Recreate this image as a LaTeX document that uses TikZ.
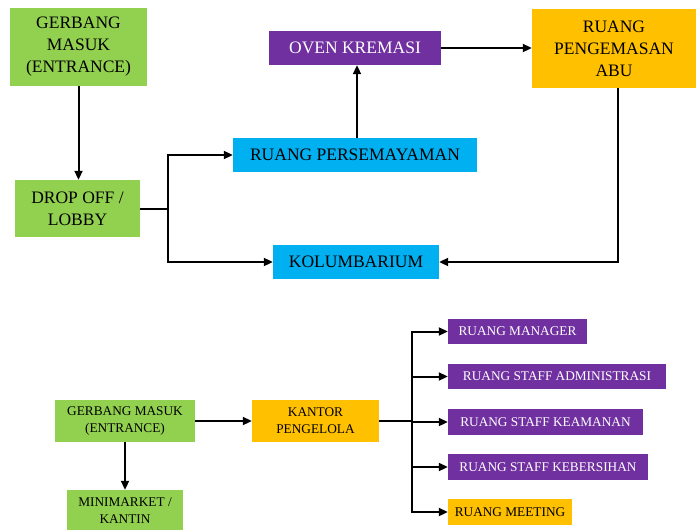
\documentclass[tikz,border=0pt]{standalone}
\usepackage{fontspec}
\setmainfont{Liberation Serif}
\usepackage{xcolor}
\usetikzlibrary{arrows.meta,calc,positioning}

\definecolor{hijau}{HTML}{92D050}
\definecolor{biru}{HTML}{00B0F0}
\definecolor{ungu}{HTML}{7030A0}
\definecolor{kuning}{HTML}{FFC000}

\begin{document}
\begin{tikzpicture}[x=1pt,y=-1pt,
  kotak/.style={inner sep=0pt,align=center},
  besar/.style={kotak,font=\rmfamily\fontsize{17.5}{22}\selectfont},
  kecil/.style={kotak,font=\rmfamily\fontsize{13.3}{17}\selectfont},
  panah/.style={draw=black,line width=2pt,-{Triangle[length=9pt,width=8pt]}},
  garis/.style={draw=black,line width=2pt}]
\clip (0,0) rectangle (696,530);
% alur utama
\node[besar,fill=hijau,minimum width=137,minimum height=78] (gate) at (78.5,47) {GERBANG\\MASUK\\(ENTRANCE)};
\node[besar,fill=hijau,minimum width=125,minimum height=57] (lobby) at (77.5,208.5) {DROP OFF /\\LOBBY};
\node[besar,fill=ungu,text=white,minimum width=172,minimum height=34] (oven) at (355,48) {OVEN KREMASI};
\node[besar,fill=biru,minimum width=244,minimum height=34] (semayam) at (355,155) {RUANG PERSEMAYAMAN};
\node[besar,fill=biru,minimum width=166,minimum height=34] (kolum) at (356,262) {KOLUMBARIUM};
\node[besar,fill=kuning,minimum width=164,minimum height=79] (abu) at (614,48.5) {RUANG\\PENGEMASAN\\ABU};
\draw[panah] (gate.south) -- (gate.south |- lobby.north);
\draw[garis] (lobby.east) -- ++(28,0) coordinate (split);
\draw[panah] (split) |- (semayam.west);
\draw[panah] (split) |- (kolum.west);
\draw[panah] ([xshift=2pt]semayam.north) -- ([xshift=2pt]oven.south);
\draw[panah] (oven.east) -- (oven.east -| abu.west);
\draw[panah] ([xshift=4pt]abu.south) |- (kolum.east);
% area pengelola
\node[kecil,fill=hijau,minimum width=140,minimum height=42] (gate2) at (125,421) {GERBANG MASUK\\(ENTRANCE)};
\node[kecil,fill=hijau,minimum width=116,minimum height=42] (mini) at (125,511) {MINIMARKET /\\KANTIN};
\node[kecil,fill=kuning,minimum width=127,minimum height=42] (kantor) at (315.5,421) {KANTOR\\PENGELOLA};
\node[kecil,fill=ungu,text=white,minimum width=139,minimum height=25] (mgr) at (517.5,331.5) {RUANG MANAGER};
\node[kecil,fill=ungu,text=white,minimum width=218,minimum height=25] (adm) at (557,376.5) {RUANG STAFF ADMINISTRASI};
\node[kecil,fill=ungu,text=white,minimum width=195,minimum height=26] (aman) at (545.5,422) {RUANG STAFF KEAMANAN};
\node[kecil,fill=ungu,text=white,minimum width=200,minimum height=26] (bersih) at (548,467) {RUANG STAFF KEBERSIHAN};
\node[kecil,fill=kuning,minimum width=124,minimum height=26] (meet) at (510,512) {RUANG MEETING};
\draw[panah] (gate2.south) -- (mini.north);
\draw[panah] (gate2.east) -- (kantor.west);
\draw[garis] (kantor.east) -- (412,421) coordinate (fork);
\foreach \r in {mgr,adm,aman,bersih,meet}
  \draw[panah] (fork) |- (\r.west);
\end{tikzpicture}
\end{document}
